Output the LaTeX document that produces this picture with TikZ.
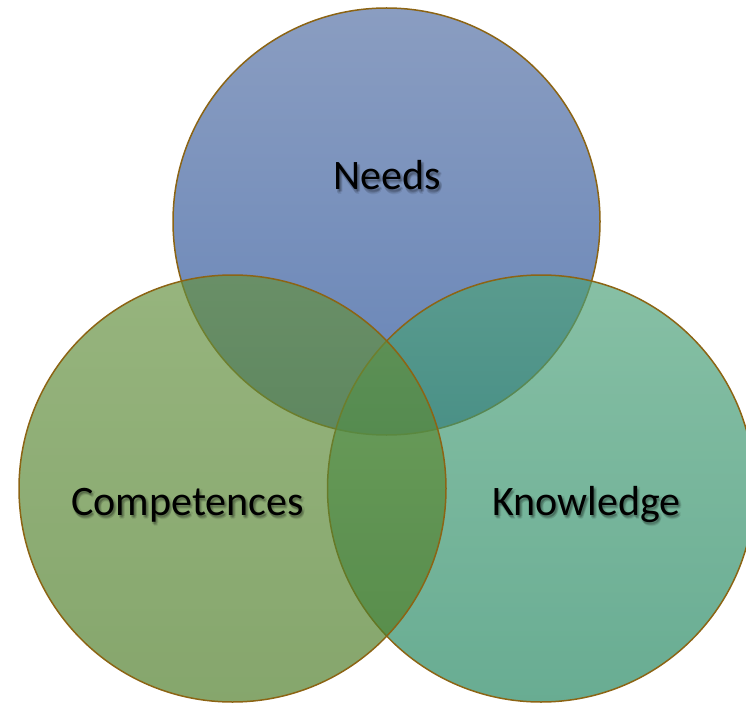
\documentclass[tikz,border=0pt]{standalone}
\usepackage{fontspec}
\setmainfont{Carlito}
\definecolor{ringline}{RGB}{140,100,20}
\definecolor{bluetop}{RGB}{138,157,193}
\definecolor{bluebot}{RGB}{102,132,183}
\definecolor{greentop}{RGB}{101,145,64}
\definecolor{greenbot}{RGB}{76,124,39}
\definecolor{tealtop}{RGB}{78,162,122}
\definecolor{tealbot}{RGB}{33,133,95}
\tikzset{
  ring/.style={draw=ringline, line width=1.5pt},
  label/.style={font=\fontsize{42}{50}\selectfont, text=black, anchor=base, inner sep=0pt},
  shadowlabel/.style={label, text opacity=0.08},
}
\begin{document}
\begin{tikzpicture}[x=1pt,y=-1pt]
\useasboundingbox (0,0) rectangle (746,703);
\clip (0,0) rectangle (746,703);
\coordinate (cn) at (386.5,221.5);
\coordinate (cc) at (232.5,488.5);
\coordinate (ck) at (541,488.5);
% top circle (opaque)
\shade[top color=bluetop, bottom color=bluebot] (cn) circle[radius=213.5pt];
\draw[ring] (cn) circle[radius=213.5pt];
% right circle
\shade[top color=tealtop, bottom color=tealbot, fill opacity=0.68] (ck) circle[radius=213.5pt];
\draw[ring] (ck) circle[radius=213.5pt];
% left circle
\shade[top color=greentop, bottom color=greenbot, fill opacity=0.68] (cc) circle[radius=213.5pt];
\draw[ring] (cc) circle[radius=213.5pt];
% soft label shadows
\foreach \sx/\sy [count=\i] in {1.5/-2, 2.5/-3, 1/-3.5, 3/-1.5, 2/-4.5, 0.5/-2.5} {
  \node[shadowlabel, xshift=\sx pt, yshift=\sy pt] (sn\i) at (387.5,190) {Needs};
  \node[shadowlabel, xshift=\sx pt, yshift=\sy pt] (sc\i) at (187.5,515) {Competences};
  \node[shadowlabel, xshift=\sx pt, yshift=\sy pt] (sk\i) at (586.5,515) {Knowledge};
}
% labels
\node[label] (needs) at (387.5,190) {Needs};
\node[label] (comp) at (187.5,515) {Competences};
\node[label] (know) at (586.5,515) {Knowledge};
\end{tikzpicture}
\end{document}
